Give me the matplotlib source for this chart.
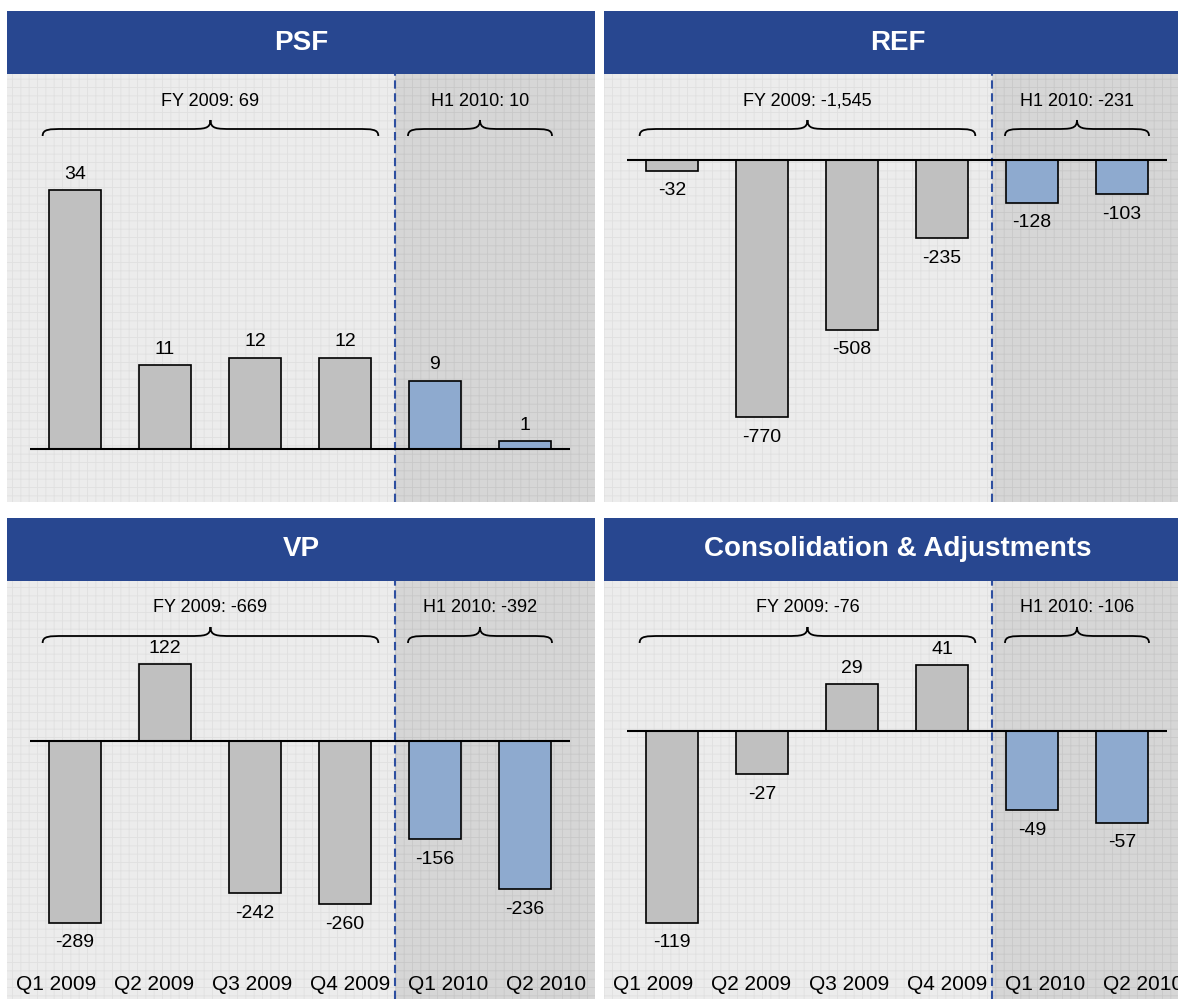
import numpy as np
import matplotlib
matplotlib.use("Agg")
from matplotlib import pyplot as plt
from matplotlib.patches import Rectangle, PathPatch
from matplotlib.path import Path
import matplotlib.transforms as mtransforms

plt.rcParams['font.family'] = ['Liberation Sans', 'DejaVu Sans']
plt.rcParams['hatch.linewidth'] = 0.6

# dane
quarters = ["Q1 2009", "Q2 2009", "Q3 2009", "Q4 2009", "Q1 2010", "Q2 2010"]
titles = ["PSF", "REF", "VP", "Consolidation & Adjustments"]
psf = [34, 11, 12, 12, 9, 1]
ref = [-32, -770, -508, -235, -128, -103]
vp = [-289, 122, -242, -260, -156, -236]
cons = [-119, -27, 29, 41, -49, -57]
fy_2009 = [69, -1545, -669, -76]
h1_2010 = [10, -231, -392, -106]
n_2009 = 4

# wyglad
W, H = 1178, 999
header_col = '#284790'
gray_bar = '#c0c0c0'
blue_bar = '#8eaacf'
dash_col = '#2e4fa0'
split_x = 3.55
xlim = (-0.756, 5.778)
ylims = [(-6.97, 49.3), (-1024, 257.5), (-410.8, 254.8), (-166.5, 93.2)]

# pozycje paneli w pikselach: x0, header_top, body_top, body_bottom
panels = [(7, 11, 74, 502), (604, 11, 74, 502),
          (7, 518, 581, 999), (604, 518, 581, 999)]
panel_w = 588


def rect(x0, y0, x1, y1):
    return [x0 / W, 1 - y1 / H, (x1 - x0) / W, (y1 - y0) / H]


def fmt(v):
    return f"{v:,}"


def brace(ax, x0, x1, h, label):
    trans = mtransforms.blended_transform_factory(ax.transData, ax.transAxes)
    xm = (x0 + x1) / 2
    yb = 1 - 62 / h
    yf = 1 - 55 / h
    yt = 1 - 46 / h
    c = 0.24
    verts = [(x0, yb),
             (x0, yf), (x0 + 0.3 * c, yf), (x0 + c, yf),
             (xm - c, yf),
             (xm - 0.3 * c, yf), (xm, yf), (xm, yt),
             (xm, yf), (xm + 0.3 * c, yf), (xm + c, yf),
             (x1 - c, yf),
             (x1 - 0.3 * c, yf), (x1, yf), (x1, yb)]
    codes = [Path.MOVETO] + [Path.CURVE4] * 3 + [Path.LINETO] + [Path.CURVE4] * 6 \
        + [Path.LINETO] + [Path.CURVE4] * 3
    ax.add_patch(PathPatch(Path(verts, codes), facecolor='none', edgecolor='black',
                           lw=1.3, transform=trans, zorder=4, clip_on=False))
    ax.text(xm, 1 - 27 / h, label, transform=trans, ha='center', va='center',
            fontsize=13, zorder=5)


fig = plt.figure(figsize=(W / 100, H / 100), dpi=100)

all_vals = [psf, ref, vp, cons]
for k in range(4):
    vals = all_vals[k]
    x0, ht, bt, bb = panels[k]
    h = bb - bt

    # naglowek
    hax = fig.add_axes(rect(x0, ht, x0 + panel_w, bt))
    hax.set_facecolor(header_col)
    hax.set_xticks([])
    hax.set_yticks([])
    for s in hax.spines.values():
        s.set_visible(False)
    hax.text(0.5, 0.5, titles[k], color='white', fontsize=20, fontweight='bold',
             ha='center', va='center', transform=hax.transAxes)

    ax = fig.add_axes(rect(x0, bt, x0 + panel_w, bb))
    ax.set_xlim(*xlim)
    ax.set_ylim(*ylims[k])
    ax.axis('off')
    ax.add_patch(Rectangle((0, 0), 1, 1, transform=ax.transAxes, facecolor='#ececec',
                           edgecolor='#e0e0e0', hatch='++', lw=0, zorder=0))
    ax.axvspan(split_x, xlim[1], facecolor='#d6d6d6', edgecolor='#c8c8c8',
               hatch='++', lw=0, zorder=0.5)
    ax.axvline(split_x, color=dash_col, ls=(0, (4, 2.2)), lw=1.5, zorder=1)

    x = np.arange(len(vals))
    colors = [gray_bar] * n_2009 + [blue_bar] * (len(vals) - n_2009)
    ax.bar(x, vals, width=0.58, color=colors, edgecolor='black', lw=1.2, zorder=3)
    ax.hlines(0, -0.5, len(vals) - 0.5, color='black', lw=1.5, zorder=3.5)

    for xi, v in zip(x, vals):
        off = 11.5 if v > 0 else -14.5
        ax.annotate(fmt(v), (xi, v), xytext=(0, off), textcoords='offset points',
                    ha='center', va='center', fontsize=14, zorder=5)

    brace(ax, -0.36, 3.37, h, f"FY 2009: {fmt(fy_2009[k])}")
    brace(ax, 3.70, 5.30, h, f"H1 2010: {fmt(h1_2010[k])}")

    if k >= 2:
        for i, q in enumerate(quarters):
            ax.text((i + 0.5) / len(quarters), 15 / h, q, transform=ax.transAxes,
                    ha='center', va='center', fontsize=15, zorder=5)

fig.savefig("out.png", dpi=100)
